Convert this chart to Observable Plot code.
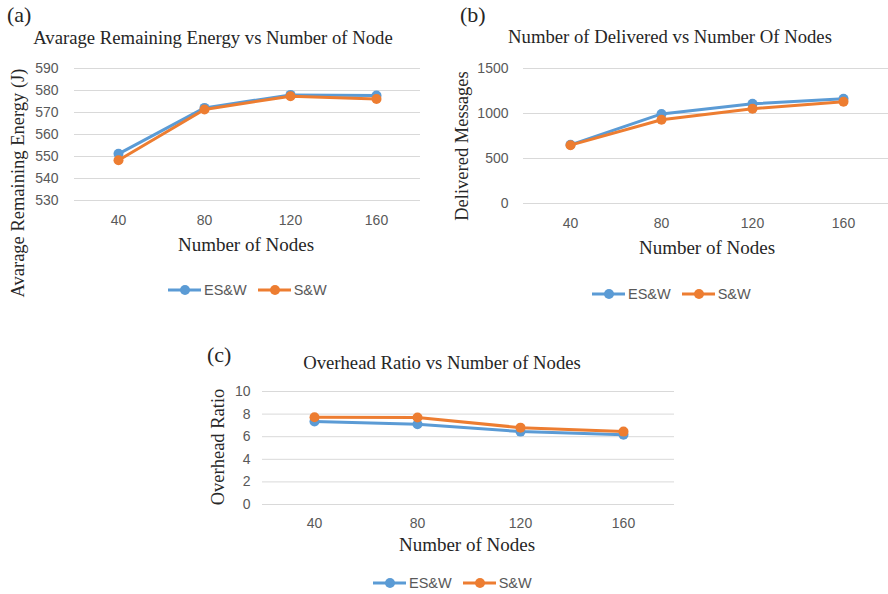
<!DOCTYPE html>
<html>
<head>
<meta charset="utf-8">
<script src="https://cdn.jsdelivr.net/npm/d3@7"></script>
<script src="https://cdn.jsdelivr.net/npm/@observablehq/plot@0.6"></script>
<style>
  html, body { margin: 0; padding: 0; background: #fff; }
  #root { position: relative; width: 888px; height: 594px; overflow: hidden; background: #fff; }
  .abs { position: absolute; white-space: nowrap; }
  .serif { font-family: "Liberation Serif", "Times New Roman", serif; color: #262626; }
  .c { transform: translate(-50%, -50%); }
  .rot { transform: translate(-50%, -50%) rotate(-90deg); }
  .leg { font-family: "Liberation Sans", Arial, sans-serif; font-size: 14.5px; color: #595959; display: flex; align-items: center; }
  .leg svg { display: block; }
  .leg span { margin-right: 10px; margin-left: 2px; }
</style>
</head>
<body>
<div id="root"></div>
<script>
const nodes = [40, 80, 120, 160];
const seriesNames = ["ES&W", "S&W"];
const seriesColors = ["#5B9BD5", "#ED7D31"];

const energyESW = [551.2, 572.1, 578.0, 577.7];
const energySW  = [548.3, 571.4, 577.4, 576.1];
const energyTicks = [530, 540, 550, 560, 570, 580, 590];

const deliveredESW = [652, 995, 1108, 1163];
const deliveredSW  = [648, 931, 1053, 1131];
const deliveredTicks = [0, 500, 1000, 1500];

const overheadESW = [7.35, 7.1, 6.45, 6.17];
const overheadSW  = [7.72, 7.7, 6.8, 6.45];
const overheadTicks = [0, 2, 4, 6, 8, 10];

const root = document.getElementById("root");

function addText(cls, text, x, y, size) {
  const d = document.createElement("div");
  d.className = "abs " + cls;
  d.textContent = text;
  d.style.left = x + "px";
  d.style.top = y + "px";
  d.style.fontSize = size + "px";
  root.appendChild(d);
  return d;
}

function addLegend(x, y) {
  const d = document.createElement("div");
  d.className = "abs leg";
  d.style.left = x + "px";
  d.style.top = (y - 8) + "px";
  seriesNames.forEach((name, i) => {
    const ns = "http://www.w3.org/2000/svg";
    const svg = document.createElementNS(ns, "svg");
    svg.setAttribute("width", 35); svg.setAttribute("height", 16);
    const l = document.createElementNS(ns, "line");
    l.setAttribute("x1", 1); l.setAttribute("x2", 34); l.setAttribute("y1", 8); l.setAttribute("y2", 8);
    l.setAttribute("stroke", seriesColors[i]); l.setAttribute("stroke-width", 3);
    const c = document.createElementNS(ns, "circle");
    c.setAttribute("cx", 18); c.setAttribute("cy", 8); c.setAttribute("r", 5);
    c.setAttribute("fill", seriesColors[i]);
    svg.appendChild(l); svg.appendChild(c);
    d.appendChild(svg);
    const s = document.createElement("span");
    s.textContent = name;
    d.appendChild(s);
  });
  root.appendChild(d);
}

function chart({left, top, width, height, mL, mR, mT, mB, yDomain, yTicks, es, sw, padY, padX}) {
  const data = nodes.flatMap((n, i) => [{n, v: es[i], s: seriesNames[0]}, {n, v: sw[i], s: seriesNames[1]}]);
  const marks = [
    Plot.ruleY(yTicks, {stroke: "#d9d9d9", strokeWidth: 1}),
    Plot.axisY({ticks: yTicks, tickFormat: d => String(d), tickSize: 0, tickPadding: padY, label: null}),
    Plot.axisX({tickFormat: d => String(d), tickSize: 0, tickPadding: padX, label: null})
  ];
  seriesNames.forEach((name, i) => {
    const f = data.filter(d => d.s === name);
    marks.push(Plot.line(f, {x: "n", y: "v", stroke: seriesColors[i], strokeWidth: 3}));
    marks.push(Plot.dot(f, {x: "n", y: "v", fill: seriesColors[i], r: 5}));
  });
  const p = Plot.plot({
    width, height,
    marginLeft: mL, marginRight: mR, marginTop: mT, marginBottom: mB,
    style: {fontFamily: "Liberation Sans, Arial, sans-serif", fontSize: "14px", color: "#595959", background: "transparent", overflow: "visible"},
    x: {type: "point", domain: nodes, padding: 0.5, label: null},
    y: {domain: yDomain, label: null},
    marks
  });
  p.style.position = "absolute";
  p.style.left = left + "px";
  p.style.top = top + "px";
  root.appendChild(p);
}

// (a)
chart({left: 0, top: 0, width: 430, height: 235, mL: 74, mR: 10, mT: 68, mB: 35,
  yDomain: [530, 590], yTicks: energyTicks, es: energyESW, sw: energySW, padY: 16, padX: 15});
addText("serif", "(a)", 7, 2, 22);
addText("serif c", "Avarage Remaining Energy vs Number of Node", 213, 38, 18.7);
addText("serif rot", "Avarage Remaining Energy (J)", 18, 183, 18.5);
addText("serif c", "Number of Nodes", 246, 245, 19);
addLegend(167, 290);

// (b)
chart({left: 440, top: 0, width: 450, height: 238, mL: 83, mR: 0, mT: 68, mB: 35,
  yDomain: [0, 1500], yTicks: deliveredTicks, es: deliveredESW, sw: deliveredSW, padY: 15, padX: 15});
addText("serif", "(b)", 460, 2, 22);
addText("serif c", "Number of Delivered vs Number Of Nodes", 670, 37, 18.7);
addText("serif rot", "Delivered Messages", 462, 146, 18.5);
addText("serif c", "Number of Nodes", 707, 248, 19);
addLegend(591, 294);

// (c)
chart({left: 200, top: 340, width: 480, height: 199, mL: 62, mR: 6, mT: 51, mB: 35,
  yDomain: [0, 10], yTicks: overheadTicks, es: overheadESW, sw: overheadSW, padY: 12, padX: 14});
addText("serif", "(c)", 207, 342, 22);
addText("serif c", "Overhead Ratio vs Number of Nodes", 442, 363, 18.7);
addText("serif rot", "Overhead Ratio", 218, 447, 18.5);
addText("serif c", "Number of Nodes", 467, 545, 19);
addLegend(372, 583);
</script>
</body>
</html>
